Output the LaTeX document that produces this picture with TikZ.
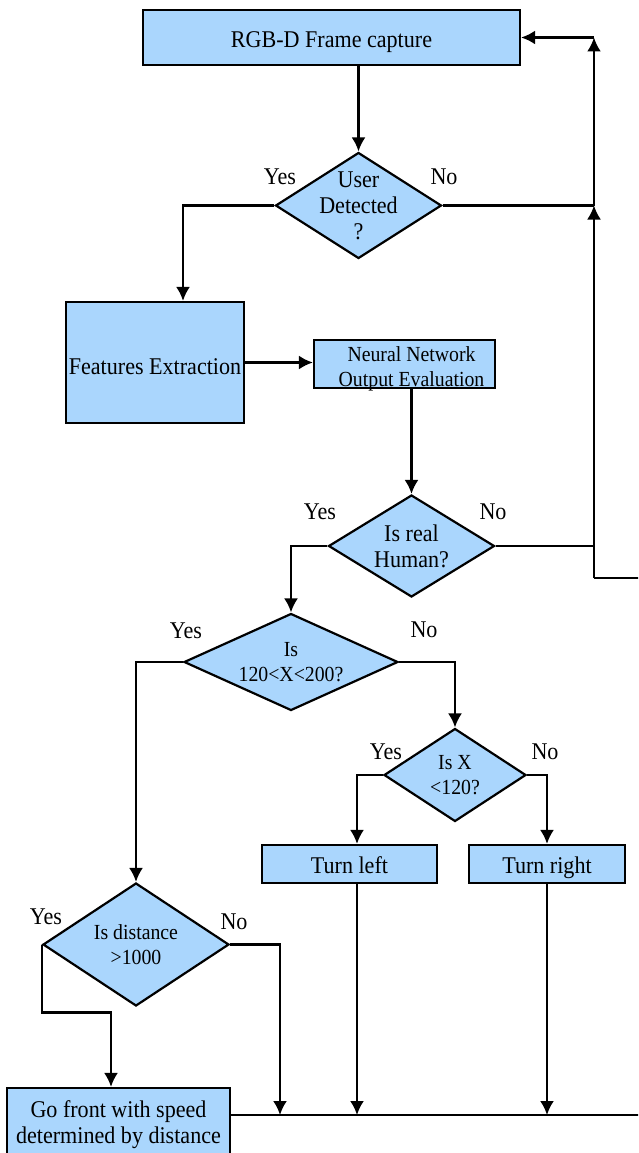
\documentclass[tikz,border=0pt]{standalone}
\usepackage{fontspec}
\setmainfont{Liberation Serif}[FakeStretch=0.92]
\usepackage{tikz}
\usetikzlibrary{calc, positioning}
\usetikzlibrary{shapes, arrows, arrows.meta}
\definecolor{boxblue}{RGB}{170,214,253}
\newcommand{\bigtxt}{\fontsize{24}{26}\selectfont}
\newcommand{\smalltxt}{\fontsize{21.5}{25}\selectfont}
\tikzset{
    box/.style ={rectangle, draw, fill=boxblue, line width=2.2pt, inner sep=0pt, align=center, font=\bigtxt},
    decision/.style ={diamond, draw, fill=boxblue, line width=2.2pt, inner sep=-40pt, align=center, font=\bigtxt},% negative inner sep so the minimum size fixes the diamond
    answer/.style ={inner sep=0pt, font=\bigtxt},
    flow/.style ={-{Latex[length=14pt,width=14pt]}, line width=2.3pt},
    wire/.style ={line width=2.3pt},
}

\begin{document}
\begin{tikzpicture}[x=1pt, y=-1pt]
    \useasboundingbox (0,0) rectangle (638,1153);
    \clip (0,0) rectangle (638,1153);
    % boxes
    \node[box, minimum width=377pt, minimum height=55pt, text height=20pt, text depth=0pt] (rgb) at (331.5,37.5) {RGB-D Frame capture};
    \node[box, minimum width=178pt, minimum height=121pt, text height=24pt, text depth=0pt] (fe) at (155,362.5) {Features Extraction};
    \node[box, minimum width=181pt, minimum height=48pt, font=\smalltxt, text height=44pt, text depth=0pt] (nn) at (404.5,364) {\hspace*{14pt}Neural Network\\\hspace*{14pt}Output Evaluation};
    \node[box, minimum width=175pt, minimum height=38pt, text height=18pt, text depth=0pt] (tl) at (349.5,864) {Turn left};
    \node[box, minimum width=156pt, minimum height=38pt, text height=18pt, text depth=0pt] (tr) at (547,864) {Turn right};
    \node[box, minimum width=223pt, minimum height=74pt] (gf) at (118.5,1125) {Go front with speed\\determined by distance};
    % decisions
    \node[decision, minimum width=166pt, minimum height=106pt] (d1) at (358.5,205.5) {User\\Detected\\?};
    \node[decision, minimum width=166pt, minimum height=102pt] (d2) at (411.5,546) {Is real\\Human?};
    \node[decision, minimum width=214pt, minimum height=97pt, font=\smalltxt] (d3) at (291,662) {Is\\120<X<200?};
    \node[decision, minimum width=142pt, minimum height=93pt, font=\smalltxt] (d4) at (455,775) {Is X\\<120?};
    \node[decision, minimum width=186pt, minimum height=123pt, font=\smalltxt] (d5) at (136,944.5) {Is distance\\>1000};
    % answers
    \node[answer] (d1yes) at (280,177) {Yes};
    \node[answer] (d1no) at (444,177) {No};
    \node[answer] (d2yes) at (320,512) {Yes};
    \node[answer] (d2no) at (493,512) {No};
    \node[answer] (d3yes) at (186,631) {Yes};
    \node[answer] (d3no) at (424,630) {No};
    \node[answer] (d4yes) at (386,752) {Yes};
    \node[answer] (d4no) at (545,752) {No};
    \node[answer] (d5yes) at (46,917) {Yes};
    \node[answer] (d5no) at (234,922) {No};
    % loop back and bottom bus
    \coordinate (ret) at (594,578);
    \coordinate (retin) at (640,578);
    \coordinate (busend) at (640,1115);
    \coordinate (j1) at (280,1115);
    \draw[flow] (rgb.south -| d1.north) -- (d1.north);
    \draw[flow] (d1.west) -| ([xshift=28pt]fe.north);
    \draw[flow] (fe.east) -- (fe.east -| nn.west);
    \draw[flow] (nn.south -| d2.north) -- (d2.north);
    \draw[flow] (d2.west) -| (d3.north);
    \draw[flow] (d3.west) -| (d5.north);
    \draw[flow] (d3.east) -| (d4.north);
    \draw[flow] (d4.west) -| ([xshift=7.5pt]tl.north);
    \draw[flow] (d4.east) -| (tr.north);
    \draw[flow] (d5.west) -- ++(0,68) -| ([xshift=-7.5pt]gf.north);
    \draw[flow] (d5.east) -| (j1);
    \draw[flow] ([xshift=7.5pt]tl.south) -- ([xshift=7.5pt]tl.south |- busend);
    \draw[flow] (tr.south) -- (tr.south |- busend);
    \draw[wire] (gf.east |- busend) -- (busend);
    \draw[wire] (retin) -- (ret);
    \draw[flow] (ret) -- (ret |- d1.east);
    \draw[flow] (ret |- d1.east) -- (ret |- rgb.east);
    \draw[flow] (ret |- rgb.east) -- (rgb.east);
    \draw[wire] (d1.east) -- (d1.east -| ret);
    \draw[wire] (d2.east) -- (d2.east -| ret);
\end{tikzpicture}
\end{document}
